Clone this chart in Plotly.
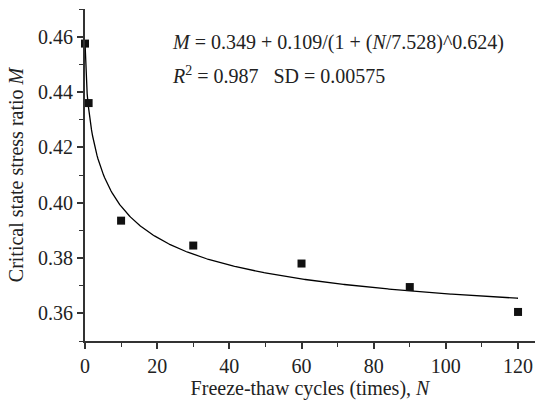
import numpy as np
import plotly.graph_objects as go

# Measured data
cycles = [0, 1, 10, 30, 60, 90, 120]
stress_ratio = [0.4575, 0.436, 0.3935, 0.3845, 0.378, 0.3695, 0.3605]

# Fit parameters shown on the chart
m0, a, n0, p = 0.349, 0.109, 7.528, 0.624
fit_n = np.linspace(0, 120, 400)
fit_m = m0 + a / (1 + (fit_n / n0) ** p)

x_ticks = [0, 20, 40, 60, 80, 100, 120]
y_ticks = [0.36, 0.38, 0.40, 0.42, 0.44, 0.46]

FONT = "Liberation Serif"
AX = "#333333"
FS = 20

fig = go.Figure()
fig.add_trace(go.Scatter(x=fit_n, y=fit_m, mode="lines",
                         line=dict(color="black", width=1.3), showlegend=False))
fig.add_trace(go.Scatter(x=cycles, y=stress_ratio, mode="markers",
                         marker=dict(symbol="square", size=8, color="#111111"),
                         showlegend=False, cliponaxis=False))

fig.update_layout(
    width=535, height=400,
    margin=dict(l=85, r=0, t=9, b=59),
    paper_bgcolor="white", plot_bgcolor="white",
    font=dict(family=FONT, size=FS, color="#222222"),
    xaxis=dict(range=[0, 124.7], tickvals=x_ticks, ticktext=[str(v) for v in x_ticks],
               showgrid=False, zeroline=False, showline=True, linecolor=AX, linewidth=1.8,
               ticks="outside", ticklen=6, tickwidth=1.5, tickcolor=AX,
               tickfont=dict(size=FS),
               minor=dict(dtick=10, tick0=0, ticks="outside", ticklen=4, tickwidth=1.2, tickcolor=AX),
               title=dict(text="Freeze-thaw cycles (times), <i>N</i>", standoff=2,
                          font=dict(size=FS))),
    yaxis=dict(range=[0.35, 0.47], tickvals=y_ticks, ticktext=[f"{v:.2f}" for v in y_ticks],
               showgrid=False, zeroline=False, showline=True, linecolor=AX, linewidth=1.8,
               ticks="outside", ticklen=6, tickwidth=1.5, tickcolor=AX,
               tickfont=dict(size=FS),
               minor=dict(dtick=0.01, tick0=0.35, ticks="outside", ticklen=4, tickwidth=1.2, tickcolor=AX),
               title=dict(text="Critical state stress ratio <i>M</i>", standoff=9,
                          font=dict(size=FS))),
)

# annotation positions given in pixels, converted to paper coords
pw, ph = 535 - 85 - 0, 400 - 9 - 59
def px2paper(px, py):
    return (px - 85) / pw, 1 - (py - 9) / ph

ax1, ay1 = px2paper(170, 43)
ax2, ay2 = px2paper(170, 75)
fig.add_annotation(x=ax1, y=ay1, xref="paper", yref="paper", showarrow=False,
                   xanchor="left", yanchor="middle",
                   text="<i>M</i> = 0.349 + 0.109/(1 + (<i>N</i>/7.528)^0.624)",
                   font=dict(size=FS))
fig.add_annotation(x=ax2, y=ay2, xref="paper", yref="paper", showarrow=False,
                   xanchor="left", yanchor="middle",
                   text="<i>R</i><sup>2</sup> = 0.987&nbsp;&nbsp;&nbsp;SD = 0.00575",
                   font=dict(size=FS))

fig.write_html("out.html")
